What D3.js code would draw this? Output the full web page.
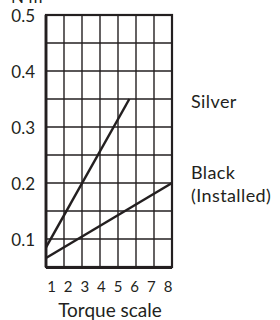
<!DOCTYPE html>
<html>
<head>
<meta charset="utf-8">
<script src="https://cdn.jsdelivr.net/npm/d3@7"></script>
<style>
  body { margin: 0; background: #fff; }
  text { font-family: Lato, "Noto Sans", sans-serif; fill: #231f20; }
</style>
</head>
<body>
<svg id="chart" width="280" height="320"></svg>
<script>
// torque scale positions and N·m values
const torqueTicks = [1, 2, 3, 4, 5, 6, 7, 8];
const yTickLabels = [0.1, 0.2, 0.3, 0.4, 0.5];
const yGrid = [0.05, 0.1, 0.15, 0.2, 0.25, 0.3, 0.35, 0.4, 0.45, 0.5];

const silverLine = [[1, 0.085], [5.63, 0.35]];
const blackLine = [[1, 0.066], [8, 0.2]];

const seriesLabels = [
  { lines: ["Silver"], y: 0.345 },
  { lines: ["Black", "(Installed)"], y: 0.218 }
];

const svg = d3.select("#chart");

const x = d3.scaleLinear().domain([1, 8]).range([46, 172]);
const y = d3.scaleLinear().domain([0.1, 0.5]).range([239, 15]);
const xLabel = d3.scaleLinear().domain([1, 8]).range([51.5, 168]);

const ink = "#231f20";

// grid
const grid = svg.append("g").attr("stroke", ink).attr("stroke-width", 1.4);
grid.selectAll("line.v")
  .data(torqueTicks.slice(1, -1))
  .join("line")
  .attr("class", "v")
  .attr("x1", d => x(d)).attr("x2", d => x(d))
  .attr("y1", y(0.5)).attr("y2", y(0.05));
grid.selectAll("line.h")
  .data(yGrid.slice(1, -1))
  .join("line")
  .attr("class", "h")
  .attr("x1", x(1)).attr("x2", x(8))
  .attr("y1", d => y(d)).attr("y2", d => y(d));

// frame
svg.append("rect")
  .attr("x", x(1)).attr("y", y(0.5))
  .attr("width", x(8) - x(1)).attr("height", y(0.05) - y(0.5))
  .attr("fill", "none").attr("stroke", ink).attr("stroke-width", 2.2);
svg.append("line")
  .attr("x1", x(1)).attr("x2", x(8))
  .attr("y1", y(0.05) + 0.5).attr("y2", y(0.05) + 0.5)
  .attr("stroke", ink).attr("stroke-width", 3);
svg.append("line")
  .attr("x1", x(1)).attr("x2", x(1))
  .attr("y1", y(0.5)).attr("y2", y(0.05))
  .attr("stroke", ink).attr("stroke-width", 2.8);

// series
const line = d3.line().x(d => x(d[0])).y(d => y(d[1]));
svg.selectAll("path.series")
  .data([silverLine, blackLine])
  .join("path")
  .attr("class", "series")
  .attr("d", line)
  .attr("fill", "none")
  .attr("stroke", ink)
  .attr("stroke-width", 2.5);

// y labels
svg.selectAll("text.ytick")
  .data(yTickLabels)
  .join("text")
  .attr("class", "ytick")
  .attr("x", 35)
  .attr("y", d => y(d))
  .attr("dy", "0.4em")
  .attr("text-anchor", "end")
  .attr("font-size", 17)
  .text(d => d.toFixed(1));

svg.append("text")
  .attr("x", 11).attr("y", 2.5)
  .attr("font-size", 17)
  .text("N·m");

// x labels
svg.selectAll("text.xtick")
  .data(torqueTicks)
  .join("text")
  .attr("class", "xtick")
  .attr("x", d => xLabel(d))
  .attr("y", 287)
  .attr("dy", "0.36em")
  .attr("text-anchor", "middle")
  .attr("font-family", "'DejaVu Sans Condensed', 'Liberation Sans Narrow', sans-serif")
  .attr("font-size", 15)
  .text(d => d);

svg.append("text")
  .attr("x", 110).attr("y", 317)
  .attr("text-anchor", "middle")
  .attr("font-size", 19)
  .text("Torque scale");

// series labels
const lbl = svg.selectAll("text.slabel")
  .data(seriesLabels)
  .join("text")
  .attr("class", "slabel")
  .attr("x", 191)
  .attr("y", d => y(d.y))
  .attr("font-size", 18)
  .attr("letter-spacing", 0.4);
lbl.selectAll("tspan")
  .data(d => d.lines)
  .join("tspan")
  .attr("x", 191)
  .attr("dy", (d, i) => i === 0 ? "0.36em" : "1.25em")
  .text(d => d);
</script>
</body>
</html>
